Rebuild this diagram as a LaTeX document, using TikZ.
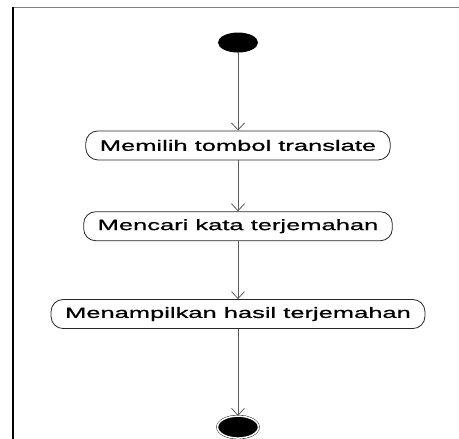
\documentclass[tikz,border=0pt]{standalone}
\usepackage{fontspec}
\newfontfamily\actfont[FakeStretch=1.7,FakeBold=0.8]{Liberation Sans}
\usetikzlibrary{matrix,shapes.geometric,arrows.meta}

\begin{document}
\begin{tikzpicture}[x=1pt,y=1pt,
    act/.style={draw=black!85, line width=0.8pt, rounded corners=12pt, minimum height=29pt,
        inner xsep=14pt, font=\actfont\fontsize{15}{17}\selectfont},
    start/.style={ellipse, fill=black, minimum width=40pt, minimum height=20pt, inner sep=0pt},
    stop/.style={ellipse, draw, fill=black, double=white, double distance=1.5pt,
        minimum width=41pt, minimum height=22pt, inner sep=0pt},
    flow/.style={draw=black!65, line width=0.8pt, -{Straight Barb[length=7pt,width=13pt]}}]
            \useasboundingbox (0,0) rectangle (459,-439);
            \draw[black!50] (12,-7.5) -- (459,-7.5);
            \draw[line width=2pt] (12.5,-7) -- (12.5,-439);
            \matrix (m) [matrix of nodes, nodes in empty cells, anchor=north] at (238,-29) {
                |[start]| \\[78pt]
                |[act]| Memilih tombol translate \\[51pt]
                |[act]| Mencari kata terjemahan \\[58pt]
                |[act]| Menampilkan hasil terjemahan \\[86pt]
                |[stop]| \\
            };
            \draw[flow] (m-1-1) -- (m-2-1);
            \draw[flow] (m-2-1) -- (m-3-1);
            \draw[flow] (m-3-1) -- (m-4-1);
            \draw[flow] (m-4-1) -- (m-5-1);
        \end{tikzpicture}
\end{document}
